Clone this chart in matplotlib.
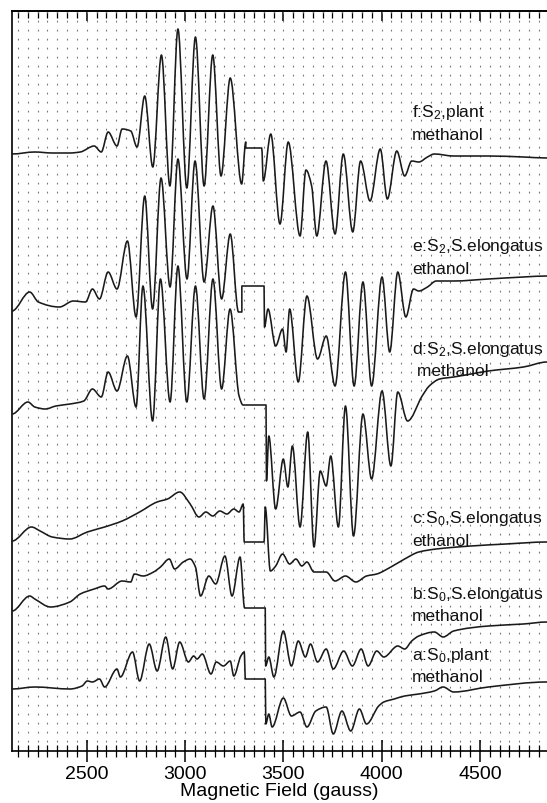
import numpy as np
import matplotlib.pyplot as plt
from matplotlib.path import Path
from matplotlib.patches import PathPatch
from matplotlib.ticker import MultipleLocator, FixedLocator

plt.rcParams['font.family'] = ['Liberation Sans', 'DejaVu Sans']
plt.rcParams['mathtext.fontset'] = 'custom'
plt.rcParams['mathtext.rm'] = 'Liberation Sans'
plt.rcParams['mathtext.it'] = 'Liberation Sans'

# EPR spectra, field in gauss, signal in arbitrary units above each baseline
f_field = [2120, 2236, 2325, 2414, 2467, 2538, 2574, 2609, 2654, 2680, 2724, 2756,
           2795, 2836, 2880, 2923, 2964, 3009, 3053, 3097, 3141, 3183, 3230, 3288,
           3309, 3309, 3390, 3398, 3436, 3483, 3525, 3585, 3615, 3644, 3670, 3717,
           3763, 3805, 3853, 3893, 3941, 3993, 4029, 4077, 4117, 4153, 4189, 4233,
           4268, 4366, 4543, 4721, 4841]
f_signal = [0, 2, 1, 1, 2, 8, 2, 22, 8, 25, 23, 7,
            58, -13, 99, -32, 125, -34, 117, -32, 99, -22, 76, -30,
            12, 6, 6, -27, 20, -70, 12, -82, -16, -32, -82, -7,
            -80, 0, -78, -7, -47, 5, -45, 3, -22, -7, -8, -3,
            0, -2, -2, -3, -4]

e_field = [2120, 2210, 2254, 2361, 2432, 2494, 2529, 2565, 2609, 2654, 2707, 2751,
           2795, 2835, 2878, 2924, 2964, 3010, 3051, 3097, 3142, 3186, 3230, 3272,
           3289, 3289, 3402, 3404, 3422, 3461, 3496, 3514, 3532, 3576, 3620, 3674,
           3718, 3763, 3816, 3860, 3905, 3949, 4002, 4041, 4082, 4123, 4162, 4189,
           4233, 4278, 4366, 4543, 4721, 4841]
e_signal = [0, 19, 9, 4, 10, 9, 22, 12, 39, 22, 70, -6,
            115, 2, 133, 24, 152, 32, 150, 29, 105, 12, 77, -1,
            -1, 25, 25, -16, 2, -35, -18, -41, 2, -71, 15, -48,
            -25, -75, 39, -75, 29, -75, 34, -41, 39, -6, 22, 20,
            24, 30, 30, 32, 34, 35]

d_field = [2121, 2201, 2236, 2290, 2343, 2415, 2485, 2529, 2574, 2609, 2654, 2707,
           2751, 2786, 2835, 2875, 2924, 2964, 3009, 3053, 3097, 3142, 3186, 3229,
           3275, 3295, 3412, 3414, 3426, 3461, 3500, 3523, 3546, 3585, 3624, 3656,
           3688, 3718, 3741, 3780, 3816, 3857, 3905, 3949, 4002, 4047, 4082, 4132,
           4206, 4242, 4295, 4366, 4455, 4543, 4721, 4841]
d_signal = [0, 12, 7, 5, 8, 10, 13, 25, 17, 42, 23, 58,
            7, 128, -7, 135, 12, 148, 12, 128, 15, 135, 25, 105,
            18, 9, 9, -67, -22, -95, -45, -73, -32, -113, -18, -133,
            -57, -72, -42, -113, 8, -122, 0, -65, 23, -52, 22, -7,
            18, 28, 35, 37, 40, 43, 47, 52]

c_field = [2121, 2219, 2263, 2325, 2414, 2503, 2591, 2680, 2769, 2858, 2911, 2973,
           3026, 3071, 3106, 3141, 3177, 3213, 3248, 3275, 3296, 3301, 3402, 3408,
           3434, 3461, 3496, 3532, 3564, 3594, 3620, 3656, 3718, 3763, 3816, 3869,
           3923, 3975, 4047, 4117, 4189, 4278, 4454, 4632, 4841]
c_signal = [0, 14, 10, 4, 2, 9, 14, 20, 29, 39, 42, 49,
            37, 24, 29, 25, 30, 27, 32, 29, 37, -1, -1, 34,
            -30, -25, -13, -23, -18, -25, -21, -31, -31, -40, -35, -41,
            -35, -33, -26, -18, -11, -8, -5, -3, -1]

b_field = [2121, 2210, 2236, 2316, 2414, 2467, 2538, 2591, 2609, 2680, 2724, 2742,
           2787, 2840, 2875, 2920, 2947, 2991, 3026, 3053, 3079, 3121, 3156, 3203,
           3239, 3280, 3303, 3408, 3410, 3426, 3452, 3500, 3541, 3576, 3612, 3638,
           3674, 3718, 3754, 3807, 3851, 3896, 3931, 3975, 4011, 4082, 4117, 4153,
           4189, 4268, 4313, 4366, 4543, 4721, 4841]
b_signal = [-2, 13, 10, 2, 7, 15, 20, 23, 20, 28, 27, 35,
            33, 37, 42, 50, 40, 47, 50, 42, 13, 33, 25, 53,
            13, 52, 1, 1, -57, -48, -68, -22, -57, -32, -48, -35,
            -53, -40, -60, -42, -57, -40, -57, -42, -48, -37, -40, -32,
            -27, -23, -28, -22, -17, -15, -13]

a_field = [2121, 2236, 2414, 2476, 2503, 2529, 2565, 2591, 2654, 2671, 2733, 2769,
           2818, 2858, 2902, 2937, 2973, 3017, 3044, 3061, 3088, 3132, 3159, 3195,
           3230, 3248, 3284, 3301, 3307, 3408, 3411, 3426, 3443, 3500, 3541, 3585,
           3620, 3665, 3718, 3754, 3798, 3843, 3887, 3923, 3985, 4011, 4064, 4117,
           4189, 4268, 4313, 4366, 4543, 4841]
a_signal = [0, 2, 0, 3, 8, 7, 10, 2, 20, 12, 37, 8,
            45, 18, 52, 20, 47, 27, 33, 30, 35, 15, 27, 23,
            28, 13, 33, 37, 10, 10, -35, -25, -38, -9, -27, -23,
            -38, -22, -18, -45, -22, -42, -20, -35, -17, -13, -10, -7,
            -5, -2, 2, -3, 2, 7]

offsets = {'a': 62, 'b': 142, 'c': 210, 'd': 337, 'e': 440, 'f': 597}

spectra = {
    'a': (a_field, a_signal),
    'b': (b_field, b_signal),
    'c': (c_field, c_signal),
    'd': (d_field, d_signal),
    'e': (e_field, e_signal),
    'f': (f_field, f_signal),
}

# two-line sample captions: (first line, second line)
captions = {
    'f': (r'f:S$_{\mathrm{2}}$,plant', 'methanol'),
    'e': (r'e:S$_{\mathrm{2}}$,S.elongatus', 'ethanol'),
    'd': (r'd:S$_{\mathrm{2}}$,S.elongatus', ' methanol'),
    'c': (r'c:S$_{\mathrm{0}}$,S.elongatus', 'ethanol'),
    'b': (r'b:S$_{\mathrm{0}}$,S.elongatus', 'methanol'),
    'a': (r'a:S$_{\mathrm{0}}$,plant', 'methanol'),
}
caption_y = {'f': 639, 'e': 505, 'd': 402, 'c': 233, 'b': 157, 'a': 96}


def trace_path(x, y):
    """Smooth path through the read points (monotone cubic segments,
    straight vertical pieces where the field value repeats)."""
    x = np.asarray(x, float)
    y = np.asarray(y, float)
    h = np.diff(x)
    slope = np.full(len(h), np.nan)
    ok = h > 0
    slope[ok] = np.diff(y)[ok] / h[ok]

    m = np.zeros(len(x))
    for i in range(1, len(x) - 1):
        d0, d1 = slope[i - 1], slope[i]
        if np.isnan(d0) or np.isnan(d1) or d0 * d1 <= 0:
            continue
        h0, h1 = h[i - 1], h[i]
        m[i] = 3 * (h0 + h1) / ((2 * h1 + h0) / d0 + (h1 + 2 * h0) / d1)

    verts = [(x[0], y[0])]
    codes = [Path.MOVETO]
    for i in range(len(h)):
        if h[i] <= 0:
            verts.append((x[i + 1], y[i + 1]))
            codes.append(Path.LINETO)
            continue
        k = h[i] / 3
        verts += [(x[i] + k, y[i] + m[i] * k),
                  (x[i + 1] - k, y[i + 1] - m[i + 1] * k),
                  (x[i + 1], y[i + 1])]
        codes += [Path.CURVE4] * 3
    return Path(verts, codes)


fig = plt.figure(figsize=(5.47, 8.04), dpi=100)
ax = fig.add_axes([12 / 547, 52 / 804, 535 / 547, 740 / 804])

xmin, xmax = 2120, 4841
ax.set_xlim(xmin, xmax)
ax.set_ylim(0, 740)

# dotted field grid every 50 gauss
for g in range(2150, 4841, 50):
    ax.axvline(g, color='#777777', lw=0.8, dashes=(1.6, 6.5), zorder=1)

for key, (fld, sig) in spectra.items():
    y = [offsets[key] + s for s in sig]
    ax.add_patch(PathPatch(trace_path(fld, y), facecolor='none', edgecolor='#1a1a1a',
                           lw=1.15, joinstyle='round', zorder=3))

for key, (l1, l2) in captions.items():
    y0 = caption_y[key]
    ax.text(4154, y0, l1, fontsize=12.5, va='center', ha='left', color='#111111')
    ax.text(4154, y0 - 22, l2, fontsize=12.5, va='center', ha='left', color='#111111')

ax.xaxis.set_major_locator(FixedLocator([2500, 3000, 3500, 4000, 4500]))
ax.xaxis.set_minor_locator(MultipleLocator(50))
ax.tick_params(axis='x', which='major', direction='inout', length=16, width=1.1,
               labelsize=14, pad=2)
ax.tick_params(axis='x', which='minor', direction='inout', length=9, width=0.9)
ax.set_yticks([])
ax.set_xlabel('Magnetic Field (gauss)', fontsize=14, labelpad=0)

# inward ticks along the top edge
top = ax.secondary_xaxis('top')
top.xaxis.set_major_locator(FixedLocator([2500, 3000, 3500, 4000, 4500]))
top.xaxis.set_minor_locator(MultipleLocator(50))
top.tick_params(which='major', direction='in', length=7, width=1.1, labeltop=False)
top.tick_params(which='minor', direction='in', length=5, width=0.9)
top.spines['top'].set_linewidth(1.2)

ax.spines['right'].set_visible(False)
for s in ['left', 'bottom', 'top']:
    ax.spines[s].set_linewidth(1.2)

fig.savefig('out.png', dpi=100)
